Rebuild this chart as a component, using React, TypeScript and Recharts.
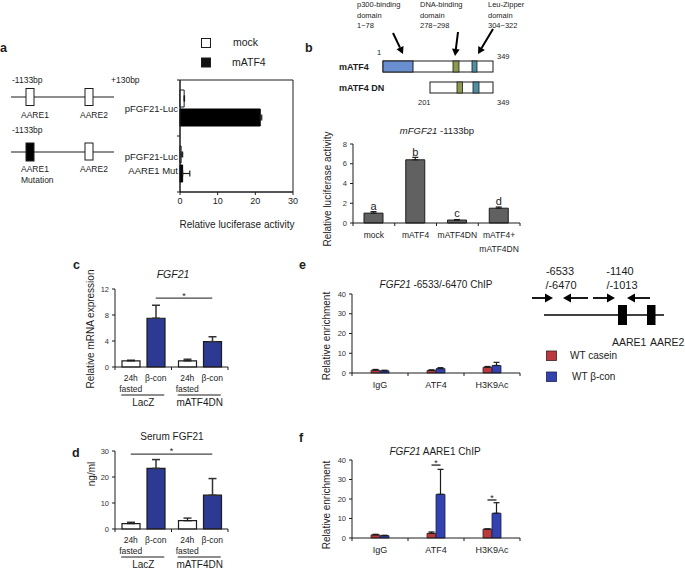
import React from 'react';
import { BarChart, Bar, XAxis, YAxis, ErrorBar, LabelList, ReferenceArea } from 'recharts';

const FONT = "'Liberation Sans', Arial, Helvetica, sans-serif";
const INK = '#1c1c1c';
const BLUE_CD = '#2c3a93';
const BLUE_EF = '#3243b0';
const RED_EF = '#b9393e';
const GRAY_B = '#616161';

// ---------- Panel a: luciferase, horizontal bars ----------
const aCategories = ['pFGF21-Luc', 'pFGF21-Luc\nAARE1 Mut'];
const aMock = [1.1, 0.3];
const aMockErr = [0.1, 0.4];
const aAtf4 = [21.3, 0.7];
const aAtf4Err = [0.4, 1.9];
const aTicks = [0, 10, 20, 30];

// ---------- Panel b ----------
const bCategories = ['mock', 'mATF4', 'mATF4DN', 'mATF4+\nmATF4DN'];
const bValues = [1.0, 6.4, 0.3, 1.5];
const bErr = [0.15, 0.25, 0.05, 0.12];
const bLetters = ['a', 'b', 'c', 'd'];
const bTicks = [0, 2, 4, 6, 8];

// ---------- Panels c, d ----------
const cdGroups = ['LacZ', 'mATF4DN'];
const cdSubLabels = ['24h\nfasted', 'β-con'];
const cFasted = [0.95, 0.95];
const cFastedErr = [0.1, 0.25];
const cBcon = [7.5, 3.9];
const cBconErr = [2.0, 0.75];
const cTicks = [0, 4, 8, 12];
const dFasted = [2.1, 3.2];
const dFastedErr = [0.5, 1.0];
const dBcon = [23.3, 13.0];
const dBconErr = [3.4, 6.4];
const dTicks = [0, 10, 20, 30];

// ---------- Panels e, f ----------
const chipTargets = ['IgG', 'ATF4', 'H3K9Ac'];
const eCasein = [1.4, 1.3, 2.9];
const eCaseinErr = [0.4, 0.3, 0.4];
const eBcon = [1.1, 2.2, 3.8];
const eBconErr = [0.3, 0.5, 1.6];
const fCasein = [1.6, 2.4, 4.6];
const fCaseinErr = [0.3, 0.7, 0];
const fBcon = [1.2, 22.4, 12.7];
const fBconErr = [0.2, 12.8, 5.4];
const chipTicks = [0, 10, 20, 30, 40];

// ---------- geometry ----------
type Rect = { x0: number; y0: number; x1: number; y1: number };
const A_RECT: Rect = { x0: 180, y0: 80, x1: 293, y1: 192 };
const B_RECT: Rect = { x0: 353, y0: 144, x1: 520, y1: 223 };
const C_RECT: Rect = { x0: 115, y0: 289, x1: 228, y1: 367 };
const D_RECT: Rect = { x0: 115, y0: 451, x1: 228, y1: 529 };
const E_RECT: Rect = { x0: 352, y0: 294, x1: 520, y1: 373 };
const F_RECT: Rect = { x0: 352, y0: 460, x1: 520, y1: 538 };

function frame(r: Rect, padL: number, padB: number, padT = 14, padR = 14) {
  return {
    style: { position: 'absolute' as const, left: r.x0 - padL, top: r.y0 - padT },
    width: r.x1 - r.x0 + padL + padR,
    height: r.y1 - r.y0 + padT + padB,
    margin: { top: padT, right: padR, left: 0, bottom: 0 },
    padL,
    padB,
  };
}
const yOf = (r: Rect, max: number, v: number) => r.y1 - (v / max) * (r.y1 - r.y0);
const bandCenter = (r: Rect, n: number, i: number) => r.x0 + ((i + 0.5) * (r.x1 - r.x0)) / n;

const numTick = { fontSize: 7.5, fill: '#333', fontFamily: FONT };

function catTickBottom(cats: string[], r: Rect, fontSize: number) {
  const band = (r.x1 - r.x0) / cats.length;
  return (p: any) => {
    const { x, y, payload } = p;
    const isLast = payload.value === cats[cats.length - 1];
    const lines = String(payload.value).split('\n');
    return (
      <g>
        <line x1={x - band / 2} x2={x - band / 2} y1={y} y2={y + 3} stroke={INK} />
        {isLast && <line x1={x + band / 2} x2={x + band / 2} y1={y} y2={y + 3} stroke={INK} />}
        {lines.map((t, i) => (
          <text key={i} x={x} y={y + 15 + i * 13.5} textAnchor="middle" fontSize={fontSize} fontFamily={FONT} fill={INK}>
            {t}
          </text>
        ))}
      </g>
    );
  };
}

function groupTick(groups: string[], r: Rect, off: number) {
  const band = (r.x1 - r.x0) / groups.length;
  return (p: any) => {
    const { x, y, payload } = p;
    const isLast = payload.value === groups[groups.length - 1];
    const left = cdSubLabels[0].split('\n');
    const right = cdSubLabels[1].split('\n');
    return (
      <g>
        <line x1={x - band / 2} x2={x - band / 2} y1={y} y2={y + 3} stroke={INK} />
        {isLast && <line x1={x + band / 2} x2={x + band / 2} y1={y} y2={y + 3} stroke={INK} />}
        {left.map((t, i) => (
          <text key={'l' + i} x={x - off} y={y + 14 + i * 11} textAnchor="middle" fontSize={8.5} fontFamily={FONT} fill={INK}>
            {t}
          </text>
        ))}
        {right.map((t, i) => (
          <text key={'r' + i} x={x + off} y={y + 14 + i * 11} textAnchor="middle" fontSize={8.5} fontFamily={FONT} fill={INK}>
            {t}
          </text>
        ))}
        <line x1={x - off - 9.5} x2={x + off + 8.5} y1={y + 28} y2={y + 28} stroke={INK} strokeWidth={1} />
        <text x={x} y={y + 39} textAnchor="middle" fontSize={10} fontFamily={FONT} fill={INK}>
          {payload.value}
        </text>
      </g>
    );
  };
}

function catTickLeft(cats: string[], r: Rect) {
  const band = (r.y1 - r.y0) / cats.length;
  return (p: any) => {
    const { x, y, payload } = p;
    const isLast = payload.value === cats[cats.length - 1];
    const lines = String(payload.value).split('\n');
    const base = lines.length === 1 ? y + 3.5 : y - 4;
    return (
      <g>
        <line x1={x - 3} x2={x} y1={y - band / 2} y2={y - band / 2} stroke={INK} />
        {isLast && <line x1={x - 3} x2={x} y1={y + band / 2} y2={y + band / 2} stroke={INK} />}
        {lines.map((t, i) => (
          <text key={i} x={x - 2} y={base + i * 14} textAnchor="end" fontSize={9.5} fontFamily={FONT} fill={INK}>
            {t}
          </text>
        ))}
      </g>
    );
  };
}

function Arrow({ x1, y1, x2, y2, w = 2, head = 7 }: { x1: number; y1: number; x2: number; y2: number; w?: number; head?: number }) {
  const dx = x2 - x1;
  const dy = y2 - y1;
  const len = Math.sqrt(dx * dx + dy * dy);
  const ux = dx / len;
  const uy = dy / len;
  const bx = x2 - ux * head;
  const by = y2 - uy * head;
  const px = -uy * head * 0.55;
  const py = ux * head * 0.55;
  return (
    <g>
      <line x1={x1} y1={y1} x2={bx} y2={by} stroke="#000" strokeWidth={w} />
      <polygon points={`${x2},${y2} ${bx + px},${by + py} ${bx - px},${by - py}`} fill="#000" />
    </g>
  );
}

function Chip({ rect, casein, caseinErr, bcon, bconErr }: { rect: Rect; casein: number[]; caseinErr: number[]; bcon: number[]; bconErr: number[] }) {
  const f = frame(rect, 30, 30);
  const data = chipTargets.map((name, i) => ({
    name,
    casein: casein[i],
    caseinErr: [0, caseinErr[i]],
    bcon: bcon[i],
    bconErr: [0, bconErr[i]],
  }));
  return (
    <div style={f.style}>
      <BarChart width={f.width} height={f.height} margin={f.margin} data={data} barSize={9} barGap={0}>
        <XAxis dataKey="name" height={f.padB} tickSize={0} tickMargin={0} tickLine={false} stroke={INK} interval={0} tick={catTickBottom(chipTargets, rect, 9)} />
        <YAxis type="number" domain={[0, 40]} ticks={chipTicks} width={f.padL} tickSize={3} tickMargin={3} stroke={INK} tick={numTick} interval={0} />
        <Bar dataKey="casein" fill={RED_EF} stroke="#3a2020" strokeWidth={0.8} isAnimationActive={false}>
          <ErrorBar dataKey="caseinErr" direction="y" width={3} stroke={INK} strokeWidth={1.2} />
        </Bar>
        <Bar dataKey="bcon" fill={BLUE_EF} stroke="#1c2050" strokeWidth={0.8} isAnimationActive={false}>
          <ErrorBar dataKey="bconErr" direction="y" width={3} stroke={INK} strokeWidth={1.2} />
        </Bar>
      </BarChart>
    </div>
  );
}

function GroupChart({ rect, fasted, fastedErr, bcon, bconErr, ticks, max }: { rect: Rect; fasted: number[]; fastedErr: number[]; bcon: number[]; bconErr: number[]; ticks: number[]; max: number }) {
  const f = frame(rect, 30, 50);
  const data = cdGroups.map((name, i) => ({
    name,
    fasted: fasted[i],
    fastedErr: [0, fastedErr[i]],
    bcon: bcon[i],
    bconErr: [0, bconErr[i]],
  }));
  return (
    <div style={f.style}>
      <BarChart width={f.width} height={f.height} margin={f.margin} data={data} barSize={18} barGap={7}>
        <XAxis dataKey="name" height={f.padB} tickSize={0} tickMargin={0} tickLine={false} stroke={INK} interval={0} tick={groupTick(cdGroups, rect, 12.5)} />
        <YAxis type="number" domain={[0, max]} ticks={ticks} width={f.padL} tickSize={3} tickMargin={3} stroke={INK} tick={numTick} interval={0} />
        <Bar dataKey="fasted" fill="#ffffff" stroke={INK} strokeWidth={1.2} isAnimationActive={false}>
          <ErrorBar dataKey="fastedErr" direction="y" width={4} stroke={INK} strokeWidth={1.3} />
        </Bar>
        <Bar dataKey="bcon" fill={BLUE_CD} stroke={INK} strokeWidth={1.2} isAnimationActive={false}>
          <ErrorBar dataKey="bconErr" direction="y" width={4} stroke="#333" strokeWidth={1.5} />
        </Bar>
      </BarChart>
    </div>
  );
}

const T = (props: any) => <text fontFamily={FONT} fill={INK} {...props} />;

export default function App() {
  const fa = frame(A_RECT, 70, 30);
  const aData = aCategories.map((name, i) => ({
    name,
    mock: aMock[i],
    mockErr: [0, aMockErr[i]],
    atf4: aAtf4[i],
    atf4Err: [0, aAtf4Err[i]],
  }));
  const fb = frame(B_RECT, 30, 45);
  const bData = bCategories.map((name, i) => ({ name, v: bValues[i], err: [0, bErr[i]], letter: bLetters[i] }));

  // annotation positions derived from the chart geometry
  const cOff = 12.5;
  const cSigY = yOf(C_RECT, 12, 10.6);
  const cSigX1 = bandCenter(C_RECT, 2, 0) + cOff;
  const cSigX2 = bandCenter(C_RECT, 2, 1) + cOff;
  const dSigY = yOf(D_RECT, 30, 28.8);
  const dSigX1 = bandCenter(D_RECT, 2, 0) - cOff;
  const dSigX2 = bandCenter(D_RECT, 2, 1) + cOff;
  const fOff = 4.5;
  const fSig = [
    { i: 1, v: 37.4 },
    { i: 2, v: 19.5 },
  ];

  return (
    <div style={{ position: 'absolute', left: 0, top: 0, width: 685, height: 569, background: '#fff', fontFamily: FONT, overflow: 'hidden' }}>
      {/* Panel a chart */}
      <div style={fa.style}>
        <BarChart layout="vertical" width={fa.width} height={fa.height} margin={fa.margin} data={aData} barSize={17} barGap={2}>
          <XAxis type="number" domain={[0, 30]} ticks={aTicks} height={fa.padB} tickSize={3} tickMargin={3} stroke={INK} interval={0} tick={{ fontSize: 9, fill: INK, fontFamily: FONT }} />
          <YAxis type="category" dataKey="name" width={fa.padL} tickSize={0} tickMargin={0} tickLine={false} stroke={INK} interval={0} tick={catTickLeft(aCategories, A_RECT)} />
          <ReferenceArea x1={0} x2={30} fill="none" fillOpacity={0} stroke={INK} strokeWidth={1} ifOverflow="visible" />
          <Bar dataKey="mock" fill="#ffffff" stroke={INK} strokeWidth={1} isAnimationActive={false}>
            <ErrorBar dataKey="mockErr" direction="x" width={3} stroke={INK} strokeWidth={1.2} />
          </Bar>
          <Bar dataKey="atf4" fill="#000000" stroke="#000" strokeWidth={1} isAnimationActive={false}>
            <ErrorBar dataKey="atf4Err" direction="x" width={3} stroke={INK} strokeWidth={1.2} />
          </Bar>
        </BarChart>
      </div>

      {/* Panel b chart */}
      <div style={fb.style}>
        <BarChart width={fb.width} height={fb.height} margin={fb.margin} data={bData} barSize={19}>
          <XAxis dataKey="name" height={fb.padB} tickSize={0} tickMargin={0} tickLine={false} stroke={INK} interval={0} tick={catTickBottom(bCategories, B_RECT, 8.5)} />
          <YAxis type="number" domain={[0, 8]} ticks={bTicks} width={fb.padL} tickSize={3} tickMargin={3} stroke={INK} tick={numTick} interval={0} />
          <Bar dataKey="v" fill={GRAY_B} stroke={INK} strokeWidth={1} isAnimationActive={false}>
            <ErrorBar dataKey="err" direction="y" width={3} stroke={INK} strokeWidth={1.2} />
            <LabelList dataKey="letter" position="top" offset={3.5} fontSize={11} fill={INK} fontFamily={FONT} />
          </Bar>
        </BarChart>
      </div>

      <GroupChart rect={C_RECT} fasted={cFasted} fastedErr={cFastedErr} bcon={cBcon} bconErr={cBconErr} ticks={cTicks} max={12} />
      <GroupChart rect={D_RECT} fasted={dFasted} fastedErr={dFastedErr} bcon={dBcon} bconErr={dBconErr} ticks={dTicks} max={30} />
      <Chip rect={E_RECT} casein={eCasein} caseinErr={eCaseinErr} bcon={eBcon} bconErr={eBconErr} />
      <Chip rect={F_RECT} casein={fCasein} caseinErr={fCaseinErr} bcon={fBcon} bconErr={fBconErr} />

      {/* Overlay: text, schematics, legends, annotations */}
      <svg width={685} height={569} style={{ position: 'absolute', left: 0, top: 0, pointerEvents: 'none' }}>
        {/* panel letters */}
        <T x={0} y={52} fontSize={12.5} fontWeight="bold">a</T>
        <T x={305} y={52} fontSize={12.5} fontWeight="bold">b</T>
        <T x={73} y={269} fontSize={12.5} fontWeight="bold">c</T>
        <T x={299} y={269} fontSize={12.5} fontWeight="bold">e</T>
        <T x={72} y={457} fontSize={12.5} fontWeight="bold">d</T>
        <T x={299} y={442} fontSize={12.5} fontWeight="bold">f</T>

        {/* panel a: promoter schematics */}
        <T x={12} y={83} fontSize={8.5}>-1133bp</T>
        <T x={111} y={83} fontSize={8.5}>+130bp</T>
        <line x1={11} x2={114} y1={97} y2={97} stroke={INK} strokeWidth={1.2} />
        <rect x={26} y={88.5} width={8} height={17} fill="#fff" stroke={INK} strokeWidth={1} />
        <rect x={85} y={88.5} width={8} height={17} fill="#fff" stroke={INK} strokeWidth={1} />
        <T x={21} y={118} fontSize={8.5}>AARE1</T>
        <T x={80} y={118} fontSize={8.5}>AARE2</T>
        <T x={12} y={133} fontSize={8.5}>-1133bp</T>
        <line x1={11} x2={114} y1={152} y2={152} stroke={INK} strokeWidth={1.2} />
        <rect x={26} y={143} width={8} height={18} fill="#000" stroke={INK} strokeWidth={1} />
        <rect x={85} y={143} width={8} height={17} fill="#fff" stroke={INK} strokeWidth={1} />
        <T x={21} y={172} fontSize={8.5}>AARE1</T>
        <T x={21} y={183} fontSize={8.5}>Mutation</T>
        <T x={80} y={172} fontSize={8.5}>AARE2</T>

        {/* panel a legend */}
        <rect x={201.5} y={38.5} width={9} height={9} fill="#fff" stroke={INK} strokeWidth={1} />
        <T x={233} y={46} fontSize={10.5}>mock</T>
        <rect x={201.5} y={58} width={9} height={9} fill="#111" stroke={INK} strokeWidth={1} />
        <T x={232} y={66} fontSize={10.5}>mATF4</T>
        <T x={237} y={228} fontSize={10} textAnchor="middle">Relative luciferase activity</T>

        {/* panel b: protein domain schematic */}
        <T x={357} y={7} fontSize={7.5}>p300-binding</T>
        <T x={357} y={17.5} fontSize={7.5}>domain</T>
        <T x={357} y={28} fontSize={7.5}>1~78</T>
        <T x={420} y={7} fontSize={7.5}>DNA-binding</T>
        <T x={420} y={17.5} fontSize={7.5}>domain</T>
        <T x={420} y={28} fontSize={7.5}>278~298</T>
        <T x={488} y={7} fontSize={7.5}>Leu-Zipper</T>
        <T x={488} y={17.5} fontSize={7.5}>domain</T>
        <T x={488} y={28} fontSize={7.5}>304~322</T>
        <Arrow x1={393} y1={33} x2={403} y2={54} />
        <Arrow x1={458} y1={32} x2={455} y2={56} />
        <Arrow x1={493} y1={29} x2={478} y2={54} />
        <T x={377} y={55} fontSize={7.5}>1</T>
        <T x={497} y={59} fontSize={7.5}>349</T>
        <T x={339} y={70} fontSize={9} fontWeight="bold">mATF4</T>
        <rect x={383} y={61} width={110} height={11} fill="#fff" stroke={INK} strokeWidth={1} />
        <rect x={383} y={61} width={30} height={11} fill="#6a8fd0" stroke={INK} strokeWidth={1} />
        <rect x={453} y={61} width={6} height={11} fill="#8b9a4f" stroke={INK} strokeWidth={0.8} />
        <rect x={472} y={61} width={5} height={11} fill="#4f8fa6" stroke={INK} strokeWidth={0.8} />
        <T x={339} y={91} fontSize={9} fontWeight="bold">mATF4 DN</T>
        <rect x={430} y={82} width={63} height={11} fill="#fff" stroke={INK} strokeWidth={1} />
        <rect x={457} y={82} width={5.5} height={11} fill="#8b9a4f" stroke={INK} strokeWidth={0.8} />
        <rect x={473} y={82} width={6} height={11} fill="#4f8fa6" stroke={INK} strokeWidth={0.8} />
        <T x={418} y={105} fontSize={7.5}>201</T>
        <T x={497} y={105} fontSize={7.5}>349</T>

        {/* panel b titles */}
        <T x={437} y={134} fontSize={9.5} textAnchor="middle">
          <tspan fontStyle="italic">mFGF21</tspan>
          <tspan> -1133bp</tspan>
        </T>
        <T transform="translate(331,189) rotate(-90)" fontSize={10} textAnchor="middle">Relative luciferase activity</T>

        {/* panel c */}
        <T x={173} y={278} fontSize={10.5} textAnchor="middle" fontStyle="italic">FGF21</T>
        <T transform="translate(93.5,329) rotate(-90)" fontSize={10} textAnchor="middle">Relative mRNA expression</T>
        <line x1={cSigX1} x2={cSigX2} y1={cSigY} y2={cSigY} stroke="#444" strokeWidth={1.2} />
        <T x={(cSigX1 + cSigX2) / 2} y={cSigY + 0.5} fontSize={9} textAnchor="middle">*</T>

        {/* panel d */}
        <T x={172} y={440} fontSize={10} textAnchor="middle">Serum FGF21</T>
        <T transform="translate(95,474) rotate(-90)" fontSize={10} textAnchor="middle">ng/ml</T>
        <line x1={dSigX1} x2={dSigX2} y1={dSigY} y2={dSigY} stroke="#444" strokeWidth={1.2} />
        <T x={(dSigX1 + dSigX2) / 2} y={dSigY - 0.5} fontSize={9} textAnchor="middle">*</T>

        {/* panel e */}
        <T x={436} y={288} fontSize={10} textAnchor="middle">
          <tspan fontStyle="italic">FGF21</tspan>
          <tspan> -6533/-6470 ChIP</tspan>
        </T>
        <T transform="translate(330,336) rotate(-90)" fontSize={10} textAnchor="middle">Relative enrichment</T>
        <T x={560} y={275} fontSize={11} textAnchor="middle">-6533</T>
        <T x={561} y={289} fontSize={11} textAnchor="middle">/-6470</T>
        <T x={620} y={275} fontSize={11} textAnchor="middle">-1140</T>
        <T x={622} y={289} fontSize={11} textAnchor="middle">/-1013</T>
        <Arrow x1={532} y1={298} x2={553} y2={298} w={1.8} head={8} />
        <Arrow x1={588} y1={298} x2={563} y2={298} w={1.8} head={8} />
        <Arrow x1={593} y1={298} x2={615} y2={298} w={1.8} head={8} />
        <Arrow x1={650} y1={298} x2={627} y2={298} w={1.8} head={8} />
        <line x1={544} x2={664} y1={315} y2={315} stroke="#000" strokeWidth={1.3} />
        <rect x={618} y={305} width={9} height={20} fill="#000" />
        <rect x={647} y={305} width={8.5} height={20} fill="#000" />
        <T x={612} y={346} fontSize={10.5}>AARE1</T>
        <T x={650} y={346} fontSize={10.5}>AARE2</T>
        <rect x={546.5} y={351} width={10} height={9.5} fill={RED_EF} stroke="#3a2020" strokeWidth={0.8} />
        <T x={570} y={359} fontSize={10}>WT casein</T>
        <rect x={546.5} y={372} width={10} height={9.5} fill={BLUE_EF} stroke="#1c2050" strokeWidth={0.8} />
        <T x={572} y={380} fontSize={10}>WT β-con</T>

        {/* panel f */}
        <T x={435} y={455} fontSize={10} textAnchor="middle">
          <tspan fontStyle="italic">FGF21</tspan>
          <tspan> AARE1 ChIP</tspan>
        </T>
        <T transform="translate(330,505) rotate(-90)" fontSize={10} textAnchor="middle">Relative enrichment</T>
        {fSig.map((s) => {
          const cx = bandCenter(F_RECT, 3, s.i);
          const y = yOf(F_RECT, 40, s.v);
          return (
            <g key={s.i}>
              <line x1={cx - fOff} x2={cx + fOff} y1={y} y2={y} stroke="#222" strokeWidth={1.3} />
              <T x={cx} y={y + 1} fontSize={9} textAnchor="middle">*</T>
            </g>
          );
        })}
      </svg>
    </div>
  );
}
